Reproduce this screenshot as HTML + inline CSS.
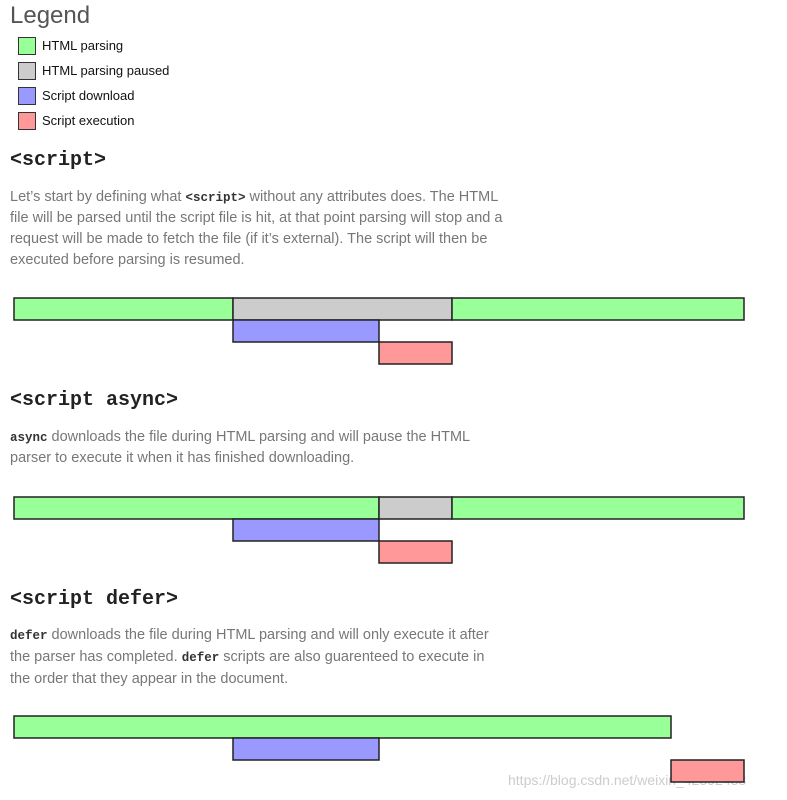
<!DOCTYPE html>
<html><head><meta charset="utf-8"><style>
body{margin:0;width:787px;height:800px;background:#fff;position:relative;overflow:hidden;font-family:"Liberation Sans",sans-serif}
.a{position:absolute;white-space:nowrap}
.p{color:#777;font-size:14.5px;left:10px}
.h{font-family:"Liberation Mono",monospace;font-weight:bold;font-size:20px;color:#222;left:10px}
code{font-family:"Liberation Mono",monospace;font-weight:bold;color:#333;font-size:12.5px}
.lg{font-size:13px;color:#111;left:42px}
.sw{position:absolute;left:18px;width:18px;height:18px;border:1.5px solid #333;box-sizing:border-box}
</style></head><body>
<div class="a" style="left:10px;top:2px;font-size:24px;color:#555">Legend</div>
<div class="sw" style="top:37px;background:#9f9"></div>
<div class="a lg" style="top:38px">HTML parsing</div>
<div class="sw" style="top:62px;background:#ccc"></div>
<div class="a lg" style="top:63px">HTML parsing paused</div>
<div class="sw" style="top:87px;background:#99f"></div>
<div class="a lg" style="top:88px">Script download</div>
<div class="sw" style="top:112px;background:#f99"></div>
<div class="a lg" style="top:113px">Script execution</div>

<div class="a h" style="top:149px">&lt;script&gt;</div>
<div class="a p" style="top:189px">Let’s start by defining what <code>&lt;script&gt;</code> without any attributes does. The HTML</div>
<div class="a p" style="top:210px">file will be parsed until the script file is hit, at that point parsing will stop and a</div>
<div class="a p" style="top:231px">request will be made to fetch the file (if it’s external). The script will then be</div>
<div class="a p" style="top:252px">executed before parsing is resumed.</div>

<div class="a h" style="top:389px">&lt;script async&gt;</div>
<div class="a p" style="top:429px"><code>async</code> downloads the file during HTML parsing and will pause the HTML</div>
<div class="a p" style="top:450px">parser to execute it when it has finished downloading.</div>

<div class="a h" style="top:588px">&lt;script defer&gt;</div>
<div class="a p" style="top:627px"><code>defer</code> downloads the file during HTML parsing and will only execute it after</div>
<div class="a p" style="top:649px">the parser has completed. <code>defer</code> scripts are also guarenteed to execute in</div>
<div class="a p" style="top:671px">the order that they appear in the document.</div>

<div class="a" style="left:508px;top:772px;font-size:14px;color:#ccc">https://blog.csdn.net/weixin_42592438</div>

<svg id="chart" width="787" height="800" style="position:absolute;left:0;top:0"></svg>
<script>
const diagrams=["script","async","defer"];
const segStart=[[0,30,60,30,50],[0,50,60,30,50],[0,30,90]];
const segEnd=[[30,60,100,50,60],[50,60,100,50,60],[90,50,100]];
const segRow=[[0,0,0,1,2],[0,0,0,1,2],[0,1,2]];
const segType=[["parse","pause","parse","download","exec"],["parse","pause","parse","download","exec"],["parse","download","exec"]];
const colors={parse:"#99ff99",pause:"#cccccc",download:"#9999ff",exec:"#ff9999"};
const diagramTop=[298,497,716];
const rowH=22;
const x=v=>14+v*7.3;
const svg=document.getElementById('chart');
diagrams.forEach((d,i)=>{
  segStart[i].forEach((s,j)=>{
    const r=document.createElementNS('http://www.w3.org/2000/svg','rect');
    r.setAttribute('x',x(s));
    r.setAttribute('y',diagramTop[i]+segRow[i][j]*rowH);
    r.setAttribute('width',x(segEnd[i][j])-x(s));
    r.setAttribute('height',rowH);
    r.setAttribute('fill',colors[segType[i][j]]);
    r.setAttribute('stroke','#222');
    r.setAttribute('stroke-width','1.5');
    
    
    svg.appendChild(r);
  });
});
</script>
</body></html>
